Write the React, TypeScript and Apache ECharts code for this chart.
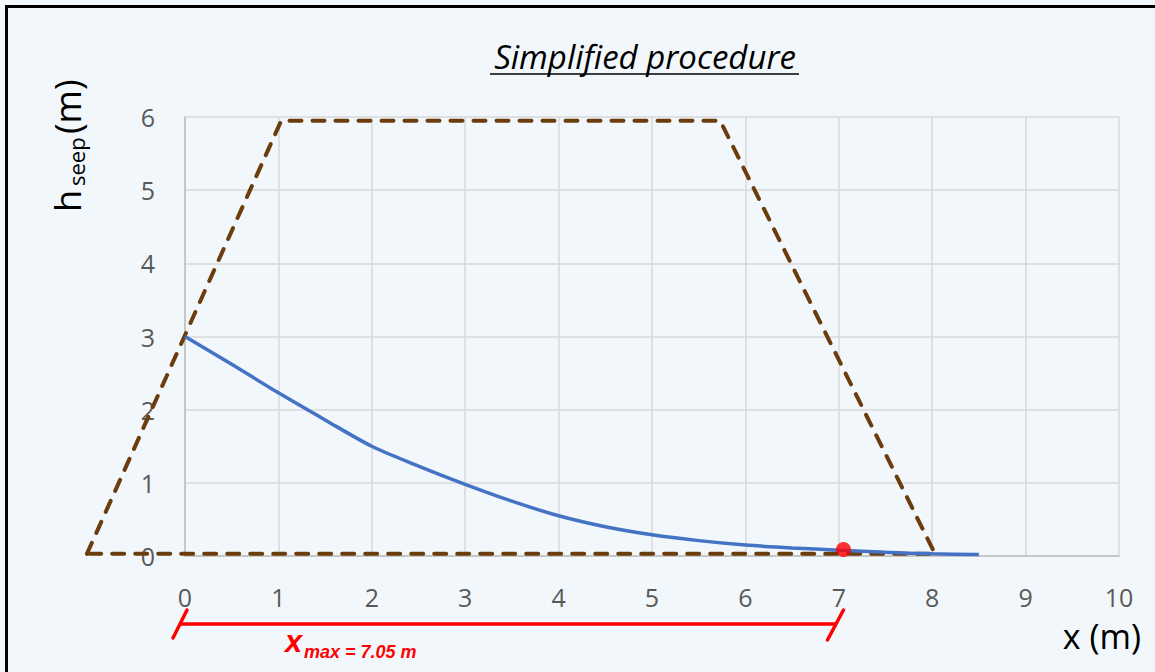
import React, { useEffect, useRef } from "react";
import * as echarts from "echarts";

// Seepage line (phreatic surface), simplified procedure
const xValues = [0, 0.5, 1, 1.5, 2, 2.5, 3, 3.5, 4, 4.5, 5, 5.5, 6, 6.5, 7, 7.5, 8, 8.5];
const hSeep = [3.0, 2.62, 2.23, 1.86, 1.5, 1.23, 0.98, 0.75, 0.55, 0.4, 0.29, 0.21, 0.15, 0.11, 0.08, 0.05, 0.03, 0.02];

// Dam cross-section outline
const damX = [-1.05, 1.03, 5.73, 8.03, -1.05];
const damY = [0.03, 5.95, 5.95, 0.03, 0.03];

// Exit point
const xMax = 7.05;
const xMaxH = 0.09;

const xTicks = { min: 0, max: 10, interval: 1 };
const yTicks = { min: 0, max: 6, interval: 1 };

const FONT = "'Open Sans', 'Noto Sans', sans-serif";

export default function App() {
  const ref = useRef<HTMLDivElement>(null);

  useEffect(() => {
    if (!ref.current) return;
    const chart = echarts.init(ref.current, null, { renderer: "svg" });
    const damData = damX.map((x, i) => [x, damY[i]]);
    const option: any = {
      animation: false,
      backgroundColor: "#f2f7fb",
      grid: { left: 185, top: 117, width: 934, height: 439, containLabel: false },
      xAxis: {
        type: "value",
        min: xTicks.min,
        max: xTicks.max,
        interval: xTicks.interval,
        axisLine: { show: true, lineStyle: { color: "#bfbfbf", width: 1.5 } },
        axisTick: { show: false },
        splitLine: { show: true, lineStyle: { color: "#d9d9d9", width: 1.5 } },
        axisLabel: { color: "#595959", fontSize: 25, fontFamily: FONT, margin: 28 },
      },
      yAxis: {
        type: "value",
        min: yTicks.min,
        max: yTicks.max,
        interval: yTicks.interval,
        axisLine: { show: true, lineStyle: { color: "#bfbfbf", width: 1.5 } },
        axisTick: { show: false },
        splitLine: { show: true, lineStyle: { color: "#d9d9d9", width: 1.5 } },
        axisLabel: { color: "#595959", fontSize: 25, fontFamily: FONT, margin: 30 },
      },
      series: [
        {
          type: "custom",
          name: "dam",
          data: damData,
          clip: false,
          z: 3,
          renderItem: (params: any, api: any) => {
            if (params.dataIndex !== 0) return null;
            const pts = damData.map((d) => api.coord(d));
            return {
              type: "polyline",
              shape: { points: pts },
              style: {
                fill: "none",
                stroke: "#6b3c0c",
                lineWidth: 4,
                lineDash: [12, 11],
                lineCap: "round",
                lineJoin: "round",
              },
            };
          },
        },
        {
          type: "line",
          name: "seepage",
          data: xValues.map((x, i) => [x, hSeep[i]]),
          showSymbol: false,
          smooth: 0.3,
          clip: false,
          z: 4,
          lineStyle: { color: "#4472c4", width: 3.5 },
        },
        {
          type: "scatter",
          name: "xmax",
          data: [[xMax, xMaxH]],
          symbolSize: 15,
          z: 5,
          itemStyle: { color: "#ff0000" },
        },
      ],
    };
    chart.setOption(option);

    const p0 = chart.convertToPixel({ gridIndex: 0 }, [0, 0]) as number[];
    const p1 = chart.convertToPixel({ gridIndex: 0 }, [xMax, 0]) as number[];
    const by = 624;
    const lx = p0[0] - 5;
    const rx = p1[0] - 8;
    const red = "#ff0000";

    chart.setOption({
      graphic: [
        {
          type: "rect",
          shape: { x: 6.5, y: 6.5, width: 1300, height: 800 },
          style: { fill: "none", stroke: "#000", lineWidth: 3 },
          silent: true,
          z: 100,
        },
        {
          type: "text",
          x: 645,
          y: 56,
          style: {
            text: "Simplified procedure",
            font: `italic 33px ${FONT}`,
            fill: "#000",
            align: "center",
            verticalAlign: "middle",
          },
        },
        {
          type: "line",
          shape: { x1: 490, y1: 74, x2: 799, y2: 74 },
          style: { stroke: "#000", lineWidth: 1.5 },
        },
        {
          type: "group",
          x: 67,
          y: 212,
          rotation: Math.PI / 2,
          children: [
            {
              type: "text",
              x: 0,
              y: 0,
              style: { text: "h", font: `36px ${FONT}`, fill: "#000", align: "left", verticalAlign: "middle" },
            },
            {
              type: "text",
              x: 26,
              y: 9,
              style: { text: "seep", font: `22px ${FONT}`, fill: "#000", align: "left", verticalAlign: "middle" },
            },
            {
              type: "text",
              x: 78,
              y: 0,
              style: { text: "(m)", font: `36px ${FONT}`, fill: "#000", align: "left", verticalAlign: "middle" },
            },
          ],
        },
        {
          type: "text",
          x: 1141,
          y: 636,
          style: {
            text: "x (m)",
            font: `34px ${FONT}`,
            fill: "#000",
            align: "right",
            verticalAlign: "middle",
          },
        },
        {
          type: "line",
          shape: { x1: lx, y1: by, x2: rx, y2: by },
          style: { stroke: red, lineWidth: 3.5 },
        },
        {
          type: "line",
          shape: { x1: lx - 7, y1: by + 14, x2: lx + 7, y2: by - 14 },
          style: { stroke: red, lineWidth: 3.5, lineCap: "round" },
        },
        {
          type: "line",
          shape: { x1: rx - 8, y1: by + 16, x2: rx + 8, y2: by - 14 },
          style: { stroke: red, lineWidth: 3.5, lineCap: "round" },
        },
        {
          type: "text",
          x: 285,
          y: 641,
          style: {
            text: "x",
            font: `italic bold 31px 'Liberation Sans', Arial, sans-serif`,
            fill: red,
            align: "left",
            verticalAlign: "middle",
          },
        },
        {
          type: "text",
          x: 304,
          y: 652,
          style: {
            text: "max = 7.05 m",
            font: `italic bold 18px 'Liberation Sans', Arial, sans-serif`,
            fill: red,
            align: "left",
            verticalAlign: "middle",
          },
        },
      ],
    });

    return () => chart.dispose();
  }, []);

  return (
    <div
      ref={ref}
      style={{ position: "absolute", left: 0, top: 0, width: 1155, height: 672 }}
    />
  );
}
